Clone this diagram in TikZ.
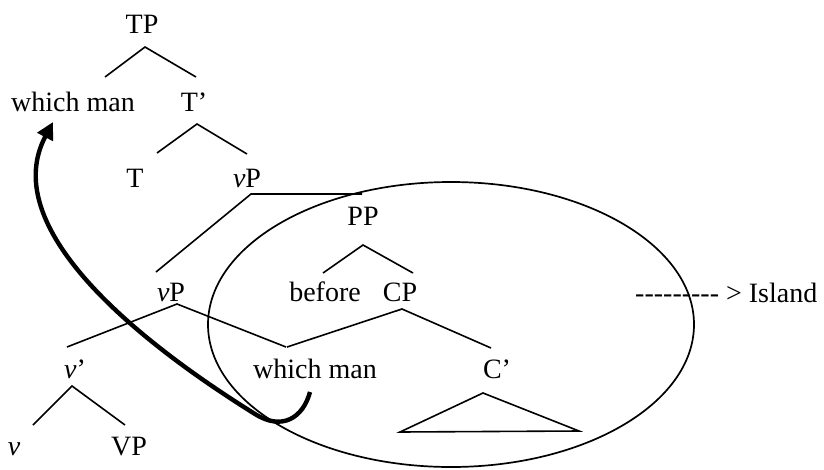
\documentclass[tikz,border=0pt]{standalone}
\usepackage{fontspec}
\setmainfont{Liberation Serif}
\usetikzlibrary{arrows.meta}
\newcommand\hyph{\mbox{-}}
\begin{document}
\begin{tikzpicture}[x=1pt,y=-1pt,
  lbl/.style={anchor=base,inner sep=0pt,font=\fontsize{28}{34}\selectfont},
  branch/.style={line width=1.6pt},
  island/.style={line width=1.7pt},
  move/.style={line width=4.4pt,-{Triangle[length=17pt,width=17pt]}}]
\useasboundingbox (0,0) rectangle (824,469);
% labels
\node[lbl] (TP)  at (142,33)  {TP};
\node[lbl] (wmA) at (73,111)  {which man};
\node[lbl] (Tb)  at (194,111) {T’};
\node[lbl] (T)   at (135,187) {T};
\node[lbl] (vPa) at (247,187) {\textit{v}P};
\node[lbl] (PP)  at (363,225) {PP};
\node[lbl] (bef) at (325,301) {before};
\node[lbl] (CP)  at (400,301) {CP};
\node[lbl] (vPb) at (171,301) {\textit{v}P};
\node[lbl] (vb)  at (75,378)  {\textit{v}’};
\node[lbl] (wmB) at (315,378) {which man};
\node[lbl] (Cb)  at (497,378) {C’};
\node[lbl] (v)   at (14,455)  {\textit{v}};
\node[lbl] (VP)  at (129,455) {VP};
\node[lbl,anchor=base west] (isl) at (635,302) {\hyph\hyph\hyph\hyph\hyph\hyph\hyph\hyph\hyph{} > Island};
% branch points
\coordinate (TPa) at (145,47);  \coordinate (TPl) at (105,77);  \coordinate (TPr) at (196,77);
\coordinate (Tba) at (197,124); \coordinate (Tbl) at (157,153); \coordinate (Tbr) at (247,154);
\coordinate (vPaa) at (251,194); \coordinate (vPar) at (362,194); \coordinate (vPal) at (156,272);
\coordinate (PPa) at (363,245); \coordinate (PPl) at (323,273); \coordinate (PPr) at (413,273);
\coordinate (vPba) at (177,304); \coordinate (vPbl) at (67,347); \coordinate (vPbr) at (286,347);
\coordinate (CPa) at (402,309); \coordinate (CPl) at (287,347); \coordinate (CPr) at (491,348);
\coordinate (vba) at (72,386); \coordinate (vbl) at (33,425); \coordinate (vbr) at (125,425);
\coordinate (tra) at (483,393); \coordinate (trl) at (400,432); \coordinate (trr) at (579,431);
% branches
\draw[branch] (TPl) -- (TPa) -- (TPr);
\draw[branch] (Tbl) -- (Tba) -- (Tbr);
\draw[branch] (vPal) -- (vPaa) -- (vPar);
\draw[branch] (PPl) -- (PPa) -- (PPr);
\draw[branch] (vPbl) -- (vPba) -- (vPbr);
\draw[branch] (CPl) -- (CPa) -- (CPr);
\draw[branch] (vbl) -- (vba) -- (vbr);
\draw[branch] (trl) -- (tra) -- (trr) -- cycle;
% island ellipse
\coordinate (ec) at (451,324.5);
\draw[island] (ec) ellipse [x radius=243, y radius=142.5];
% movement arrow
\coordinate (mvS) at (310,392);
\coordinate (mvM) at (255,414);
\coordinate (mvE) at (53,122);
\draw[move] (mvS) .. controls (303,418) and (282,431) .. (mvM)
  .. controls (120,330) and (0,222) .. (mvE);
\end{tikzpicture}
\end{document}
